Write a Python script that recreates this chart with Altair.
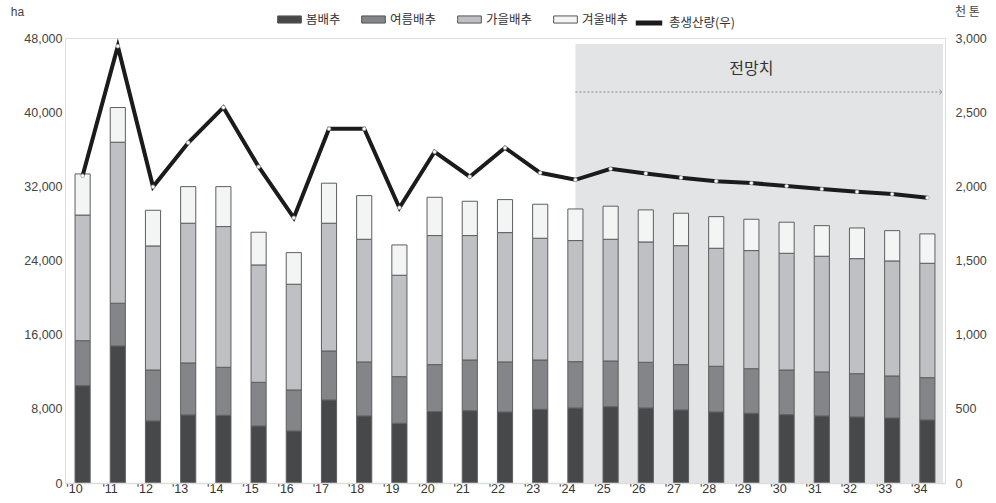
import altair as alt
import pandas as pd

years = ["'10", "'11", "'12", "'13", "'14", "'15", "'16", "'17", "'18", "'19", "'20", "'21",
         "'22", "'23", "'24", "'25", "'26", "'27", "'28", "'29", "'30", "'31", "'32", "'33", "'34"]
spring = [10500, 14780, 6690, 7340, 7300, 6150, 5610, 8960, 7230, 6440, 7700, 7800,
          7660, 7950, 8090, 8230, 8090, 7880, 7660, 7520, 7370, 7230, 7120, 7010, 6800]
summer = [4850, 4610, 5500, 5610, 5180, 4710, 4425, 5280, 5830, 5030, 5070, 5470,
          5400, 5320, 5000, 4930, 4930, 4890, 4930, 4810, 4820, 4750, 4670, 4535, 4560]
autumn = [13550, 17370, 13380, 15070, 15180, 12660, 11405, 13780, 13230, 10940, 13920, 13420,
          13950, 13130, 13060, 13130, 12980, 12830, 12730, 12740, 12590, 12480, 12410, 12405, 12340]
winter = [4440, 3740, 3850, 3950, 4310, 3530, 3410, 4320, 4710, 3270, 4130, 3700,
          3560, 3670, 3410, 3570, 3460, 3500, 3410, 3380, 3350, 3300, 3310, 3270, 3170]
production = [2071, 2945, 1997, 2294, 2532, 2132, 1788, 2388, 2388, 1856, 2233, 2065,
              2260, 2091, 2044, 2118, 2087, 2058, 2035, 2022, 2002, 1982, 1963, 1948, 1923]

seasons = ["봄배추", "여름배추", "가을배추", "겨울배추"]
season_colors = ["#47484a", "#848589", "#bfc0c4", "#f3f4f4"]
line_name = "총생산량(우)"
forecast_start = "'24"
forecast_label = "전망치"
forecast_label_at = "'29"

rows = []
for i, y in enumerate(years):
    for k, (s, vals) in enumerate(zip(seasons, [spring, summer, autumn, winter])):
        rows.append({"year": y, "season": s, "ord": k, "area": vals[i]})
bars_df = pd.DataFrame(rows)
line_df = pd.DataFrame({"year": years, "prod": production, "series": line_name})

W, H = 880, 445
KFONT = "Noto Sans CJK KR"
NFONT = "Liberation Sans"

xenc = alt.X("year:N", sort=years, scale=alt.Scale(paddingInner=0.57, paddingOuter=0.285),
             axis=alt.Axis(title=None, labelAngle=0, ticks=False, domainColor="#dddddd",
                           domainWidth=1.5, labelFont=NFONT, labelFontSize=12.5,
                           labelColor="#333333", labelPadding=5))

shade = alt.Chart(pd.DataFrame({"a": [0]})).mark_rect(color="#e3e4e6").encode(
    x=alt.XDatum(forecast_start, bandPosition=0.5, scale=alt.Scale(domain=years)),
    x2=alt.value(W - 2),
    y=alt.value(6),
    y2=alt.value(H),
)

arrow = alt.Chart(pd.DataFrame({"a": [0]})).mark_rule(
    color="#8a8a8a", strokeDash=[2, 2], strokeWidth=1).encode(
    x=alt.XDatum(forecast_start, bandPosition=0.5),
    x2=alt.value(W - 3),
    y=alt.value(54),
)
arrow_head = alt.Chart(pd.DataFrame({"a": [0]})).mark_point(
    shape="M-1,-1L0,0L-1,1", filled=False, color="#8a8a8a", size=30, strokeWidth=1).encode(
    x=alt.value(W - 3), y=alt.value(54))

label = alt.Chart(pd.DataFrame({"a": [0]})).mark_text(
    text=forecast_label, font=KFONT, fontSize=16, color="#333333").encode(
    x=alt.XDatum(forecast_label_at), y=alt.value(31))

bars = alt.Chart(bars_df).mark_bar(stroke="#5f5f5f", strokeWidth=1).encode(
    x=xenc,
    y=alt.Y("sum(area):Q", scale=alt.Scale(domain=[0, 48000], nice=False),
            axis=alt.Axis(values=list(range(0, 48001, 8000)), format=",.0f", grid=False,
                          ticks=False, domain=False, labelFont=NFONT, labelFontSize=12.5,
                          labelColor="#444444", labelPadding=3,
                          title="ha", titleAngle=0, titleX=-48, titleY=-20,
                          titleFont=NFONT, titleFontSize=12, titleFontWeight="normal",
                          titleColor="#444444", titleAlign="center")),
    color=alt.Color("season:N", scale=alt.Scale(domain=seasons, range=season_colors),
                    legend=alt.Legend(title=None, orient="none", legendX=212, legendY=-31,
                                      direction="horizontal", columns=4,
                                      symbolType="M-1,-0.3L1,-0.3L1,0.3L-1,0.3Z",
                                      symbolSize=560, symbolStrokeColor="#555555",
                                      symbolStrokeWidth=1, symbolOpacity=1,
                                      labelFont=KFONT, labelFontSize=12.5,
                                      labelColor="#333333", columnPadding=18)),
    order=alt.Order("ord:Q", sort="ascending"),
)

line = alt.Chart(line_df).mark_line(strokeWidth=4, strokeJoin="miter").encode(
    x=alt.X("year:N", sort=years),
    y=alt.Y("prod:Q", scale=alt.Scale(domain=[0, 3000], nice=False),
            axis=alt.Axis(orient="right", values=list(range(0, 3001, 500)), format=",.0f",
                          grid=False, ticks=False, domain=False, labelFont=NFONT,
                          labelFontSize=12.5, labelColor="#444444", labelPadding=10,
                          title="천 톤", titleAngle=0, titleX=22, titleY=-20,
                          titleFont=KFONT, titleFontSize=12, titleFontWeight="normal",
                          titleColor="#444444", titleAlign="center")),
    stroke=alt.Stroke("series:N", scale=alt.Scale(domain=[line_name], range=["#1b1b1b"]),
                      legend=alt.Legend(title=None, orient="none", legendX=568, legendY=-31,
                                        symbolType="stroke", symbolSize=700,
                                        symbolStrokeWidth=5, labelFont=KFONT,
                                        labelFontSize=12.5, labelColor="#333333")),
)
pts = alt.Chart(line_df).mark_point(filled=True, fill="white", stroke="#9a9a9a",
                                    strokeWidth=0.7, size=14, opacity=1).encode(
    x=alt.X("year:N", sort=years),
    y=alt.Y("prod:Q", scale=alt.Scale(domain=[0, 3000], nice=False), axis=None),
)

chart = alt.layer(shade, arrow, arrow_head, label, bars, line, pts).resolve_scale(
    y="independent"
).properties(
    width=W, height=H,
    autosize=alt.AutoSizeParams(type="none"),
    padding={"left": 65, "top": 38, "right": 51, "bottom": 20},
).configure_view(stroke=None).configure(background="white")

chart.save("out.html", embed_options={"renderer": "svg", "actions": False})
